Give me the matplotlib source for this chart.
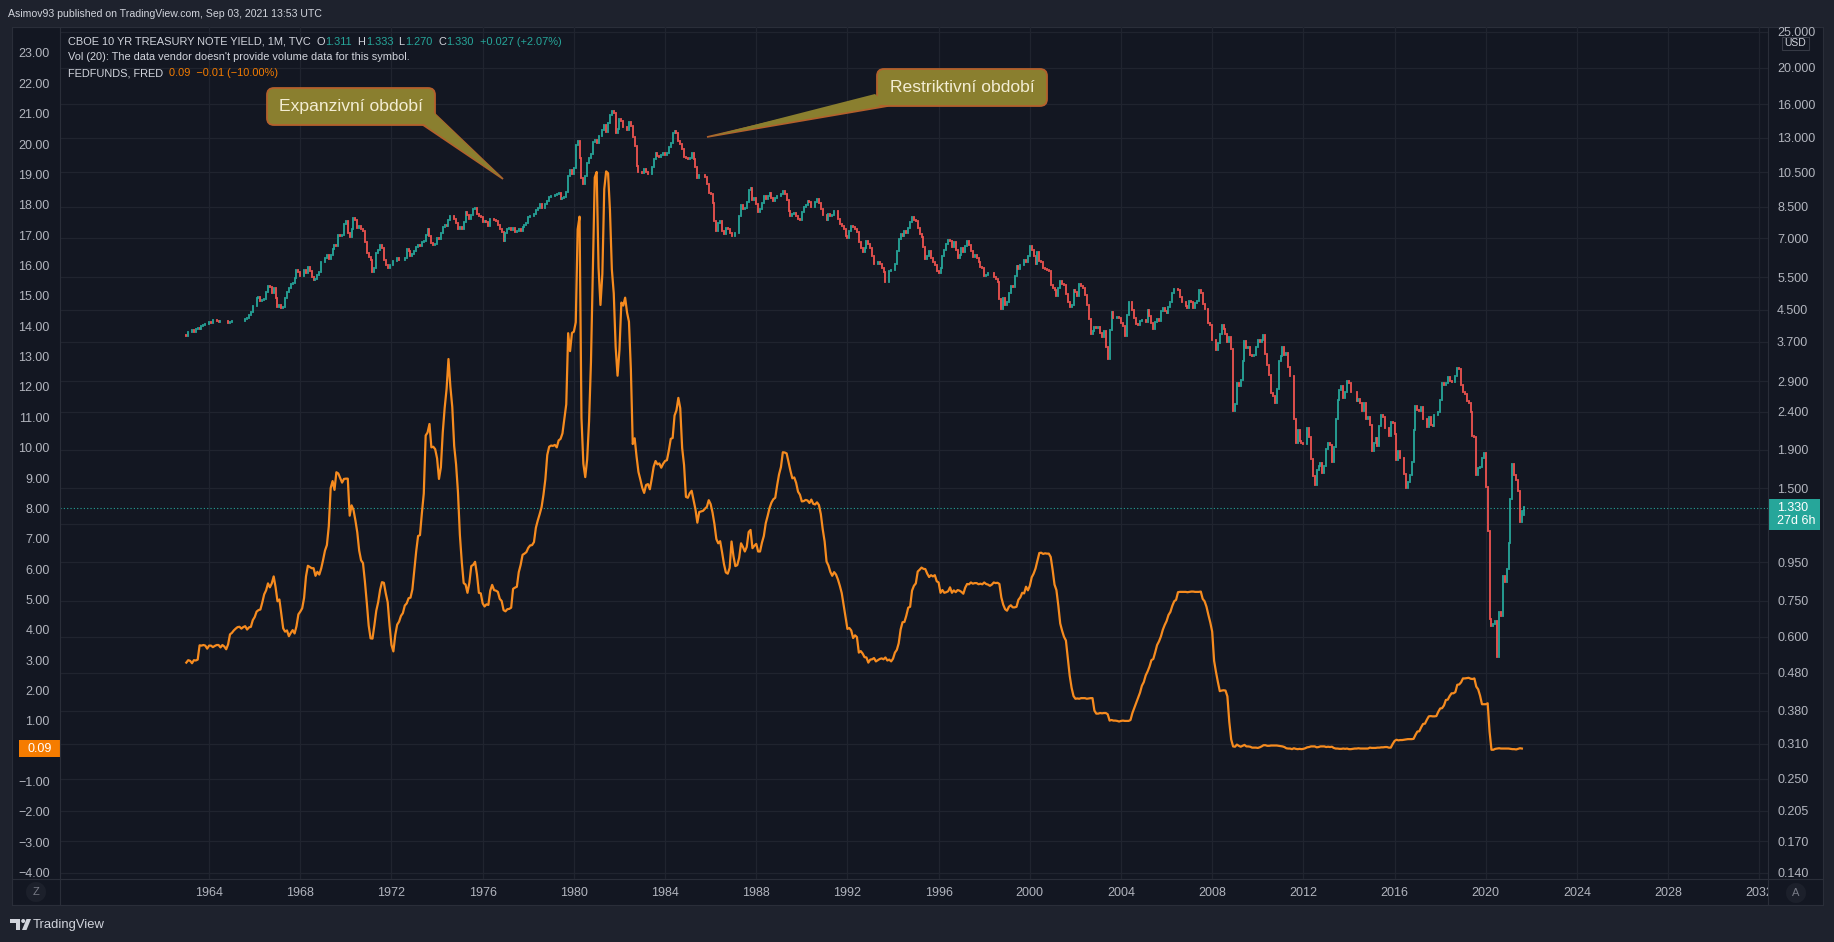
import matplotlib
matplotlib.use("Agg")
import matplotlib.pyplot as plt
import numpy as np
from matplotlib.patches import FancyBboxPatch, Polygon, Rectangle, Circle
from matplotlib.collections import LineCollection
from matplotlib.ticker import NullLocator

W, H = 1834, 942
plt.rcParams['font.family'] = ['Liberation Sans', 'DejaVu Sans']

# ---------------- data ----------------
start_year = 1963          # first monthly bar: Jan 1963
us10y_first_open = 3.85

# CBOE 10Y treasury yield, monthly closes (Jan 1963 .. Sep 2021)
us10y_close = [
    3.83, 3.92, 3.93, 3.97, 3.93, 3.99, 4.02, 4.00, 4.08, 4.11, 4.12, 4.13,
    4.17, 4.15, 4.22, 4.23, 4.20, 4.17, 4.19, 4.19, 4.20, 4.19, 4.15, 4.18,
    4.19, 4.21, 4.21, 4.20, 4.21, 4.21, 4.20, 4.25, 4.29, 4.35, 4.45, 4.62,
    4.61, 4.83, 4.87, 4.75, 4.78, 4.81, 5.02, 5.22, 5.18, 5.01, 5.16, 4.84,
    4.58, 4.63, 4.54, 4.59, 4.85, 5.02, 5.16, 5.28, 5.30, 5.48, 5.75, 5.70,
    5.53, 5.56, 5.74, 5.64, 5.87, 5.72, 5.50, 5.42, 5.46, 5.58, 5.70, 6.03,
    6.04, 6.19, 6.30, 6.17, 6.32, 6.57, 6.72, 6.69, 7.16, 7.10, 7.14, 7.65,
    7.79, 7.24, 7.07, 7.39, 7.91, 7.84, 7.46, 7.53, 7.39, 7.33, 6.84, 6.39,
    6.24, 6.11, 5.70, 5.83, 6.39, 6.52, 6.73, 6.58, 6.14, 5.93, 5.81, 5.93,
    5.95, 6.08, 6.07, 6.19, 6.13, 6.11, 6.11, 6.21, 6.55, 6.48, 6.28, 6.36,
    6.46, 6.64, 6.71, 6.67, 6.85, 6.90, 7.13, 7.40, 7.09, 6.79, 6.73, 6.74,
    6.99, 6.96, 7.21, 7.51, 7.58, 7.54, 7.81, 8.04, 8.04, 7.90, 7.68, 7.43,
    7.50, 7.39, 7.73, 8.23, 8.06, 7.86, 8.06, 8.40, 8.43, 8.14, 8.05, 8.00,
    7.74, 7.79, 7.73, 7.56, 7.90, 7.86, 7.83, 7.77, 7.59, 7.41, 7.29, 6.87,
    7.21, 7.39, 7.46, 7.37, 7.46, 7.28, 7.33, 7.40, 7.34, 7.52, 7.58, 7.69,
    7.96, 8.03, 8.04, 8.15, 8.35, 8.46, 8.64, 8.41, 8.42, 8.64, 8.81, 9.01,
    9.10, 9.10, 9.12, 9.18, 9.25, 8.91, 8.95, 9.03, 9.33, 10.30, 10.65, 10.39,
    10.80, 12.41, 12.75, 11.47, 10.18, 9.78, 10.25, 11.10, 11.51, 11.75, 12.68, 12.84,
    12.57, 13.19, 13.12, 13.68, 14.10, 13.47, 14.28, 14.94, 15.32, 15.15, 13.39, 13.72,
    14.59, 14.43, 13.86, 13.87, 13.62, 14.30, 13.95, 13.06, 12.34, 10.91, 10.55, 10.54,
    10.46, 10.72, 10.51, 10.40, 10.38, 10.85, 11.38, 11.85, 11.65, 11.54, 11.69, 11.83,
    11.67, 11.84, 12.32, 12.63, 13.41, 13.56, 13.36, 12.72, 12.52, 12.16, 11.57, 11.50,
    11.38, 11.51, 11.86, 11.43, 10.85, 10.16, 10.31, 10.33, 10.37, 10.24, 9.78, 9.26,
    9.19, 8.70, 7.78, 7.30, 7.71, 7.80, 7.30, 7.17, 7.45, 7.43, 7.25, 7.11,
    7.08, 7.25, 7.25, 8.02, 8.61, 8.40, 8.45, 8.76, 9.42, 9.52, 8.86, 8.99,
    8.67, 8.21, 8.37, 8.72, 9.09, 8.92, 9.06, 9.26, 8.98, 8.80, 8.96, 9.11,
    9.09, 9.17, 9.36, 9.18, 8.86, 8.28, 8.02, 8.11, 8.19, 8.01, 7.87, 7.84,
    8.21, 8.47, 8.59, 8.79, 8.76, 8.48, 8.47, 8.75, 8.89, 8.72, 8.39, 8.08,
    8.09, 7.85, 8.11, 8.04, 8.07, 8.28, 8.27, 7.90, 7.65, 7.53, 7.42, 7.09,
    7.03, 7.34, 7.54, 7.48, 7.39, 7.26, 6.84, 6.59, 6.42, 6.59, 6.87, 6.77,
    6.60, 6.26, 5.98, 5.97, 6.04, 5.96, 5.81, 5.68, 5.36, 5.33, 5.72, 5.77,
    5.75, 5.97, 6.48, 6.97, 7.18, 7.10, 7.30, 7.24, 7.46, 7.74, 7.96, 7.81,
    7.78, 7.47, 7.20, 7.06, 6.63, 6.17, 6.28, 6.49, 6.20, 6.04, 5.93, 5.71,
    5.65, 5.81, 6.27, 6.51, 6.74, 6.91, 6.87, 6.64, 6.83, 6.53, 6.20, 6.30,
    6.58, 6.42, 6.69, 6.89, 6.71, 6.49, 6.22, 6.30, 6.21, 6.03, 5.88, 5.81,
    5.54, 5.57, 5.65, 5.64, 5.65, 5.50, 5.46, 5.34, 4.81, 4.53, 4.83, 4.65,
    4.72, 5.00, 5.23, 5.18, 5.54, 5.90, 5.79, 5.94, 5.92, 6.11, 6.03, 6.28,
    6.66, 6.52, 6.26, 5.99, 6.44, 6.10, 6.05, 5.83, 5.80, 5.74, 5.72, 5.24,
    5.16, 5.10, 4.89, 5.14, 5.39, 5.28, 5.24, 4.97, 4.73, 4.57, 4.65, 5.09,
    5.04, 4.91, 5.28, 5.21, 5.16, 4.93, 4.65, 4.26, 3.87, 3.94, 4.05, 4.03,
    4.05, 3.90, 3.81, 3.96, 3.57, 3.33, 3.98, 4.45, 4.27, 4.29, 4.30, 4.27,
    4.15, 4.08, 3.83, 4.35, 4.72, 4.73, 4.50, 4.28, 4.13, 4.10, 4.19, 4.23,
    4.22, 4.17, 4.50, 4.34, 4.14, 4.00, 4.18, 4.26, 4.20, 4.46, 4.54, 4.47,
    4.42, 4.57, 4.72, 4.99, 5.11, 5.11, 5.09, 4.88, 4.72, 4.73, 4.60, 4.56,
    4.76, 4.72, 4.56, 4.69, 4.75, 5.10, 5.00, 4.67, 4.52, 4.53, 4.15, 4.10,
    3.74, 3.74, 3.51, 3.68, 3.88, 4.10, 4.01, 3.89, 3.69, 3.81, 3.53, 2.42,
    2.52, 2.87, 2.82, 2.93, 3.29, 3.72, 3.56, 3.59, 3.40, 3.39, 3.40, 3.59,
    3.73, 3.69, 3.73, 3.85, 3.42, 3.20, 3.01, 2.70, 2.65, 2.54, 2.76, 3.29,
    3.39, 3.58, 3.41, 3.46, 3.17, 3.00, 3.00, 2.30, 1.98, 2.15, 2.01, 1.98,
    1.97, 1.97, 2.17, 2.05, 1.80, 1.62, 1.53, 1.68, 1.72, 1.75, 1.65, 1.72,
    1.91, 1.98, 1.96, 1.76, 1.93, 2.30, 2.58, 2.74, 2.81, 2.62, 2.72, 2.90,
    2.86, 2.71, 2.72, 2.71, 2.56, 2.60, 2.54, 2.42, 2.53, 2.30, 2.33, 2.21,
    1.88, 1.98, 2.04, 1.94, 2.20, 2.36, 2.32, 2.17, 2.17, 2.07, 2.26, 2.24,
    2.09, 1.78, 1.89, 1.81, 1.81, 1.64, 1.50, 1.56, 1.63, 1.76, 2.14, 2.49,
    2.43, 2.42, 2.48, 2.30, 2.30, 2.19, 2.32, 2.21, 2.20, 2.36, 2.35, 2.40,
    2.58, 2.86, 2.84, 2.87, 2.98, 2.91, 2.89, 2.89, 3.00, 3.15, 3.12, 2.83,
    2.71, 2.68, 2.57, 2.53, 2.40, 2.07, 2.06, 1.63, 1.70, 1.71, 1.81, 1.86,
    1.51, 1.15, 0.67, 0.64, 0.65, 0.66, 0.53, 0.70, 0.68, 0.87, 0.84, 0.91,
    1.07, 1.40, 1.74, 1.63, 1.58, 1.47, 1.22, 1.303, 1.330,
]
# last (current) bar
last_open, last_high, last_low, last_close = 1.311, 1.333, 1.270, 1.330

# FEDFUNDS (FRED), monthly (Jan 1963 .. Aug 2021)
fedfunds = [
    2.92, 3.00, 2.98, 2.90, 3.00, 2.99, 3.02, 3.49, 3.48, 3.50, 3.48, 3.38,
    3.48, 3.48, 3.43, 3.47, 3.50, 3.50, 3.42, 3.50, 3.45, 3.36, 3.52, 3.85,
    3.90, 3.98, 4.04, 4.09, 4.10, 4.04, 4.09, 4.12, 4.01, 4.08, 4.10, 4.32,
    4.42, 4.60, 4.65, 4.67, 4.90, 5.17, 5.30, 5.53, 5.40, 5.53, 5.76, 5.40,
    4.94, 5.00, 4.53, 4.05, 3.94, 3.98, 3.79, 3.90, 3.99, 3.88, 4.12, 4.51,
    4.60, 4.71, 5.05, 5.76, 6.11, 6.07, 6.03, 6.03, 5.78, 5.91, 5.82, 6.02,
    6.30, 6.61, 6.79, 7.41, 8.67, 8.90, 8.61, 9.19, 9.15, 9.00, 8.85, 8.97,
    8.98, 8.98, 7.76, 8.10, 7.95, 7.61, 7.21, 6.61, 6.29, 6.20, 5.60, 4.90,
    4.14, 3.72, 3.71, 4.15, 4.63, 4.91, 5.31, 5.57, 5.55, 5.20, 4.91, 4.14,
    3.50, 3.29, 3.83, 4.17, 4.27, 4.46, 4.55, 4.80, 4.87, 5.04, 5.06, 5.33,
    5.94, 6.58, 7.09, 7.12, 7.84, 8.49, 10.40, 10.50, 10.78, 10.01, 10.03, 9.95,
    9.65, 8.97, 9.35, 10.51, 11.31, 11.93, 12.92, 12.01, 11.34, 10.06, 9.45, 8.53,
    7.13, 6.24, 5.54, 5.49, 5.22, 5.55, 6.10, 6.14, 6.24, 5.82, 5.22, 5.20,
    4.87, 4.77, 4.84, 4.82, 5.29, 5.48, 5.31, 5.29, 5.25, 5.02, 4.95, 4.65,
    4.61, 4.68, 4.69, 4.73, 5.35, 5.39, 5.42, 5.90, 6.14, 6.47, 6.51, 6.56,
    6.70, 6.78, 6.79, 6.89, 7.36, 7.60, 7.81, 8.04, 8.45, 8.96, 9.76, 10.03,
    10.07, 10.06, 10.09, 10.01, 10.24, 10.29, 10.47, 10.94, 11.43, 13.77, 13.18, 13.78,
    13.82, 14.13, 17.19, 17.61, 10.98, 9.47, 9.03, 9.61, 10.87, 12.81, 15.85, 18.90,
    19.08, 15.93, 14.70, 15.72, 18.52, 19.10, 19.04, 17.82, 15.87, 15.08, 13.31, 12.37,
    13.22, 14.78, 14.68, 14.94, 14.45, 14.15, 12.59, 10.12, 10.31, 9.71, 9.20, 8.95,
    8.68, 8.51, 8.77, 8.80, 8.63, 8.98, 9.37, 9.56, 9.45, 9.48, 9.34, 9.47,
    9.56, 9.59, 9.91, 10.29, 10.32, 11.06, 11.23, 11.64, 11.30, 9.99, 9.43, 8.38,
    8.35, 8.50, 8.58, 8.27, 7.97, 7.53, 7.88, 7.90, 7.92, 7.99, 8.05, 8.27,
    8.14, 7.86, 7.48, 6.99, 6.85, 6.92, 6.56, 6.17, 5.89, 5.85, 6.04, 6.91,
    6.43, 6.10, 6.13, 6.37, 6.85, 6.73, 6.58, 6.73, 7.22, 7.29, 6.69, 6.77,
    6.83, 6.58, 6.58, 6.87, 7.09, 7.51, 7.75, 8.01, 8.19, 8.30, 8.35, 8.76,
    9.12, 9.36, 9.85, 9.84, 9.81, 9.53, 9.24, 8.99, 9.02, 8.84, 8.55, 8.45,
    8.23, 8.24, 8.28, 8.26, 8.18, 8.29, 8.15, 8.13, 8.20, 8.11, 7.81, 7.31,
    6.91, 6.25, 6.12, 5.91, 5.78, 5.90, 5.82, 5.66, 5.45, 5.21, 4.81, 4.43,
    4.03, 4.06, 3.98, 3.73, 3.82, 3.76, 3.25, 3.30, 3.22, 3.10, 3.09, 2.92,
    3.02, 3.03, 3.07, 2.96, 3.00, 3.04, 3.06, 3.03, 3.09, 2.99, 3.02, 2.96,
    3.05, 3.25, 3.34, 3.56, 4.01, 4.25, 4.26, 4.47, 4.73, 4.76, 5.29, 5.45,
    5.53, 5.92, 5.98, 6.05, 6.01, 6.00, 5.85, 5.74, 5.80, 5.76, 5.80, 5.60,
    5.56, 5.22, 5.31, 5.22, 5.24, 5.27, 5.40, 5.22, 5.30, 5.24, 5.31, 5.29,
    5.25, 5.19, 5.39, 5.51, 5.50, 5.56, 5.52, 5.54, 5.54, 5.50, 5.52, 5.50,
    5.56, 5.51, 5.49, 5.45, 5.49, 5.56, 5.54, 5.55, 5.51, 5.07, 4.83, 4.68,
    4.63, 4.76, 4.81, 4.74, 4.74, 4.76, 4.99, 5.07, 5.22, 5.20, 5.42, 5.30,
    5.45, 5.73, 5.85, 6.02, 6.27, 6.53, 6.54, 6.50, 6.52, 6.51, 6.51, 6.40,
    5.98, 5.49, 5.31, 4.80, 4.21, 3.97, 3.77, 3.65, 3.07, 2.49, 2.09, 1.82,
    1.73, 1.74, 1.73, 1.75, 1.75, 1.75, 1.73, 1.74, 1.75, 1.75, 1.34, 1.24,
    1.24, 1.26, 1.25, 1.26, 1.26, 1.22, 1.01, 1.03, 1.01, 1.01, 1.00, 0.98,
    1.00, 1.01, 1.00, 1.00, 1.00, 1.03, 1.26, 1.43, 1.61, 1.76, 1.93, 2.16,
    2.28, 2.50, 2.63, 2.79, 3.00, 3.04, 3.26, 3.50, 3.62, 3.78, 4.00, 4.16,
    4.29, 4.49, 4.59, 4.79, 4.94, 4.99, 5.24, 5.25, 5.25, 5.25, 5.25, 5.24,
    5.25, 5.26, 5.26, 5.25, 5.25, 5.25, 5.26, 5.02, 4.94, 4.76, 4.49, 4.24,
    3.94, 2.98, 2.61, 2.28, 1.98, 2.00, 2.01, 2.00, 1.81, 0.97, 0.39, 0.16,
    0.15, 0.22, 0.18, 0.15, 0.18, 0.21, 0.16, 0.16, 0.15, 0.12, 0.12, 0.12,
    0.11, 0.13, 0.16, 0.20, 0.20, 0.18, 0.18, 0.19, 0.19, 0.19, 0.19, 0.18,
    0.17, 0.16, 0.14, 0.10, 0.09, 0.09, 0.07, 0.10, 0.08, 0.07, 0.08, 0.07,
    0.08, 0.10, 0.13, 0.14, 0.16, 0.16, 0.16, 0.13, 0.14, 0.16, 0.16, 0.16,
    0.14, 0.15, 0.14, 0.15, 0.11, 0.09, 0.09, 0.08, 0.08, 0.09, 0.08, 0.09,
    0.07, 0.07, 0.08, 0.09, 0.09, 0.10, 0.09, 0.09, 0.09, 0.09, 0.09, 0.12,
    0.11, 0.11, 0.11, 0.12, 0.12, 0.13, 0.13, 0.14, 0.14, 0.12, 0.12, 0.24,
    0.34, 0.38, 0.36, 0.37, 0.37, 0.38, 0.39, 0.40, 0.40, 0.40, 0.41, 0.54,
    0.65, 0.66, 0.79, 0.90, 0.91, 1.04, 1.15, 1.16, 1.15, 1.15, 1.16, 1.30,
    1.41, 1.42, 1.51, 1.69, 1.70, 1.82, 1.91, 1.91, 1.95, 2.19, 2.20, 2.27,
    2.40, 2.40, 2.41, 2.42, 2.39, 2.38, 2.40, 2.13, 2.04, 1.83, 1.55, 1.55,
    1.55, 1.58, 0.65, 0.05, 0.05, 0.08, 0.09, 0.10, 0.09, 0.09, 0.09, 0.09,
    0.09, 0.08, 0.07, 0.07, 0.06, 0.08, 0.10, 0.09,
]

left_ticks = list(range(-4, 24))
hidden_left_labels = [0]          # covered by the FEDFUNDS value label
right_ticks = [25, 20, 16, 13, 10.5, 8.5, 7, 5.5, 4.5, 3.7, 2.9, 2.4, 1.9, 1.5,
               1.2, 0.95, 0.75, 0.6, 0.48, 0.38, 0.31, 0.25, 0.205, 0.17, 0.14]
hidden_right_labels = [1.2]       # covered by the last-price label
year_ticks = list(range(1964, 2033, 4))

title_text = "Asimov93 published on TradingView.com, Sep 03, 2021 13:53 UTC"
symbol_text = "CBOE 10 YR TREASURY NOTE YIELD, 1M, TVC"
vol_text = "Vol (20): The data vendor doesn't provide volume data for this symbol."
ff_text = "FEDFUNDS, FRED"
bubble1_text = "Expanzivní období"
bubble2_text = "Restriktivní období"

# ---------------- style ----------------
BG_OUT = '#1e222d'
BG_PLOT = '#131722'
GRID = '#20242f'
BORDER = '#2a2e39'
TXT = '#b2b5be'
LEG = '#d1d4dc'
UP = '#26a69a'
DOWN = '#ef5350'
ORANGE = '#f68b1f'
ORANGE_LBL = '#f57c00'
BUB_FC = '#8a7f2f'
BUB_EC = '#b4602c'
BUB_TXT = '#f3edd3'
AXIS_FS = 9.0
LEG_FS = 7.9

XL = (1957.46, 2032.38)
YL_LEFT = (-4.207, 23.856)
YL_RIGHT = (0.1347, 25.75)

fig = plt.figure(figsize=(W / 100, H / 100), dpi=100, facecolor=BG_OUT)


def px_axes(x0, y0, x1, y1, z=0):
    return fig.add_axes([x0 / W, 1 - y1 / H, (x1 - x0) / W, (y1 - y0) / H], zorder=z)


PL, PR, PT, PB = 60, 1768, 27, 879

panel = px_axes(12, 27, 1823, 905, z=-5)
panel.set_facecolor(BG_PLOT)
panel.set_xticks([]); panel.set_yticks([])
for s in panel.spines.values():
    s.set_color(BORDER); s.set_linewidth(0.8)

# right (log) axis: 10Y candles
axr = px_axes(PL, PT, PR, PB, z=1)
axr.patch.set_visible(False)
axr.set_yscale('log')
axr.set_xlim(*XL)
axr.set_ylim(*YL_RIGHT)
for s in axr.spines.values():
    s.set_visible(False)
axr.set_xticks([])
axr.yaxis.tick_right()
axr.set_yticks(right_ticks)
axr.yaxis.set_minor_locator(NullLocator())
axr.set_yticklabels(['' if v in hidden_right_labels else f"{v:.3f}" for v in right_ticks])
axr.tick_params(axis='y', which='both', length=0, pad=6.5, labelsize=AXIS_FS, labelcolor=TXT)

for v in right_ticks:
    axr.axhline(v, color=GRID, lw=0.9, zorder=0)
for yr in year_ticks:
    axr.axvline(yr, color=GRID, lw=0.9, zorder=0)

n = len(us10y_close)
t_bar = start_year + np.arange(n) / 12.0
opens = [us10y_first_open] + us10y_close[:-1]
opens[-1] = last_open
segs, cols = [], []
for t, o, c in zip(t_bar, opens, us10y_close):
    segs.append([(t, o), (t, c)])
    cols.append(UP if c >= o else DOWN)
# wick of the current bar
segs.append([(t_bar[-1], last_low), (t_bar[-1], last_high)])
cols.append(UP if last_close >= last_open else DOWN)
lc = LineCollection(segs, colors=cols, linewidths=1.3, capstyle='projecting', zorder=2)
axr.add_collection(lc)
axr.axhline(last_close, color=UP, lw=0.8, ls=(0, (1, 2)), zorder=1)

# left (linear) axis: FEDFUNDS
ax = px_axes(PL, PT, PR, PB, z=2)
ax.patch.set_visible(False)
ax.set_xlim(*XL)
ax.set_ylim(*YL_LEFT)
for s in ax.spines.values():
    s.set_visible(False)
ax.set_xticks([])
ax.set_yticks(left_ticks)
ax.set_yticklabels(['' if v in hidden_left_labels else f"{v:.2f}".replace('-', '\u2212')
                    for v in left_ticks])
ax.tick_params(axis='y', length=0, pad=7.5, labelsize=AXIS_FS, labelcolor=TXT)
t_ff = start_year + np.arange(len(fedfunds)) / 12.0
ax.plot(t_ff, fedfunds, color=ORANGE, lw=1.6, solid_joinstyle='round', zorder=3)

# time axis
axt = px_axes(PL, PB, PR, 905, z=3)
axt.set_xlim(*XL); axt.set_ylim(0, 1)
axt.axis('off')
for yr in year_ticks:
    axt.text(yr, 0.45, str(yr), ha='center', va='center', fontsize=AXIS_FS, color=TXT, clip_on=True)

# overlay in pixel coordinates
ov = fig.add_axes([0, 0, 1, 1], zorder=10)
ov.set_xlim(0, W); ov.set_ylim(H, 0)
ov.axis('off')
ov.patch.set_visible(False)

ov.add_patch(Rectangle((0, 0), W, 26.5, fc=BG_OUT, ec='none'))
ov.text(8, 14, title_text, color=LEG, fontsize=7.6, va='center', ha='left')

for x in (PL, PR):
    ov.plot([x, x], [27, 905], color=BORDER, lw=0.8)
ov.plot([12, 1823], [PB, PB], color=BORDER, lw=0.8)


def to_px(a, x, y):
    X, Y = a.transData.transform((x, y))
    return X, H - Y


# current price label (right)
_, ylast = to_px(axr, XL[0], last_close)
ov.add_patch(Rectangle((PR, ylast - 9), 52, 31, fc=UP, ec='none'))
ov.text(1777, ylast, f"{last_close:.3f}", color='white', fontsize=AXIS_FS, va='center', ha='left')
ov.text(1777, ylast + 13, "27d 6h", color='white', fontsize=AXIS_FS, va='center', ha='left')

# FEDFUNDS label (left)
_, yff = to_px(ax, XL[0], fedfunds[-1])
ov.add_patch(Rectangle((19, yff - 8.5), PL - 19, 17, fc=ORANGE_LBL, ec='none'))
ov.text(52, yff, f"{fedfunds[-1]:.2f}", color='white', fontsize=AXIS_FS, va='center', ha='right')

# USD box
ov.add_patch(Rectangle((1782, 37), 27, 13, fc=BG_PLOT, ec='#363a45', lw=0.8))
ov.text(1795.5, 43.5, "USD", color=LEG, fontsize=7.5, va='center', ha='center')

# corner buttons
for cx, cy, ch in ((36, 892, 'Z'), (1796, 893, 'A')):
    ov.add_patch(Circle((cx, cy), 10, fc='#1c202b', ec='none'))
    ov.text(cx, cy, ch, color='#787b86', fontsize=8, va='center', ha='center')

# legend lines
renderer = fig.canvas.get_renderer()


def seq_text(x, y, pieces, size=LEG_FS):
    for s, c in pieces:
        t = ov.text(x, y, s, color=c, fontsize=size, va='center', ha='left')
        x += t.get_window_extent(renderer).width


prev_close = us10y_close[-2]
chg = last_close - prev_close
chg_pct = chg / prev_close * 100
seq_text(68, 42, [(symbol_text + "  ", LEG),
                  ("O", LEG), (f"{last_open:.3f}", UP), ("  H", LEG), (f"{last_high:.3f}", UP),
                  ("  L", LEG), (f"{last_low:.3f}", UP), ("  C", LEG), (f"{last_close:.3f}", UP),
                  (f"  +{chg:.3f} (+{chg_pct:.2f}%)", UP)])
seq_text(68, 57.5, [(vol_text, LEG)])
ff_chg = fedfunds[-1] - fedfunds[-2]
ff_pct = ff_chg / fedfunds[-2] * 100
seq_text(68, 73.5, [(ff_text + "  ", LEG),
                    (f"{fedfunds[-1]:.2f}  {ff_chg:.2f} ({ff_pct:.2f}%)".replace('-', '\u2212'), ORANGE_LBL)])


# speech bubbles
def bubble(x0, y0, w, h, tail, text):
    ov.add_patch(Polygon(tail, closed=True, fc=BUB_FC, ec=BUB_EC, lw=1.2, joinstyle='miter'))
    ov.add_patch(FancyBboxPatch((x0, y0), w, h, boxstyle='round,pad=0,rounding_size=7',
                                fc=BUB_FC, ec=BUB_EC, lw=1.3))
    inner = [(tail[0][0] - 2, tail[0][1] - 3), tail[1], (tail[2][0] - 2, tail[2][1] - 2)]
    ov.add_patch(Polygon(inner, closed=True, fc=BUB_FC, ec='none'))
    ov.text(x0 + w / 2, y0 + h / 2, text, color=BUB_TXT, fontsize=12.6, ha='center', va='center')


bubble(267, 88, 168, 37, [(423, 125), (503, 179), (435, 114)], bubble1_text)
bubble(877, 69, 170, 37, [(877, 97), (707, 137), (888, 106)], bubble2_text)

# TradingView logo
ov.add_patch(Polygon([(10, 919), (20, 919), (20, 930), (15.5, 930), (15.5, 922.5), (10, 922.5)],
                     fc=LEG, ec='none'))
ov.add_patch(Circle((23.2, 921), 2.0, fc=LEG, ec='none'))
ov.add_patch(Polygon([(26.5, 919), (31, 919), (26.5, 930), (22, 930)], fc=LEG, ec='none'))
ov.text(33, 925, "TradingView", color=LEG, fontsize=9.4, va='center', ha='left')

fig.savefig('out.png', dpi=100, facecolor=BG_OUT)
